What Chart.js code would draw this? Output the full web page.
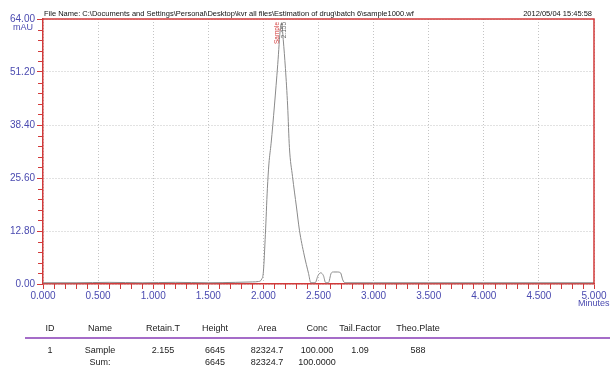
<!DOCTYPE html>
<html>
<head>
<meta charset="utf-8">
<script src="https://cdn.jsdelivr.net/npm/chart.js@4/dist/chart.umd.min.js"></script>
<style>
  html, body { margin: 0; padding: 0; background: #fff; }
  canvas { display: block; }
</style>
</head>
<body>
<canvas id="chart" width="610" height="373"></canvas>
<script>
// chromatogram trace (minutes, mAU)
const times = [0, 0.3, 0.6, 0.9, 1.2, 1.5, 1.75, 1.9, 1.955, 1.985, 2.0, 2.018, 2.036, 2.05, 2.07, 2.1, 2.13, 2.155, 2.165, 2.18, 2.2, 2.22, 2.236, 2.264, 2.3, 2.327, 2.37, 2.41, 2.43, 2.47, 2.495, 2.52, 2.545, 2.565, 2.59, 2.615, 2.635, 2.67, 2.70, 2.72, 2.74, 3.0, 3.5, 4.0, 4.5, 5.0];
const signal = [0.3, 0.3, 0.4, 0.3, 0.4, 0.3, 0.4, 0.5, 0.6, 1.2, 3, 12, 23, 29, 34, 43, 53, 62, 63, 59, 52, 43, 33, 26, 18.6, 13, 7, 2.5, 0.3, 0.3, 2, 2.7, 2, 0.3, 0.3, 2.6, 2.9, 2.9, 2.7, 1, 0.3, 0.3, 0.3, 0.3, 0.3, 0.3];

const xTicks = [0, 0.5, 1, 1.5, 2, 2.5, 3, 3.5, 4, 4.5, 5];
const yTicks = [0, 12.8, 25.6, 38.4, 51.2, 64];

const fileName = 'File Name: C:\\Documents and Settings\\Personal\\Desktop\\kvr all files\\Estimation of drug\\batch 6\\sample1000.wf';
const stamp = '2012/05/04 15:45:58';
const peakName = 'Sample';
const peakTime = '2.155';

// peak table
const tableHeader = ['ID', 'Name', 'Retain.T', 'Height', 'Area', 'Conc', 'Tail.Factor', 'Theo.Plate'];
const tableRow = ['1', 'Sample', '2.155', '6645', '82324.7', '100.000', '1.09', '588'];
const sumRow = ['', 'Sum:', '', '6645', '82324.7', '100.0000', '', ''];
const colX = [50, 100, 163, 215, 267, 317, 360, 418];

const RED = '#d23a3a';
const BLUE = '#4a4ab0';
const FONT = '"Liberation Sans", Arial, sans-serif';

const decor = {
  id: 'decor',
  afterDraw(chart) {
    const ctx = chart.ctx;
    const a = chart.chartArea;
    const xs = chart.scales.x, ys = chart.scales.y;
    ctx.save();
    // frame top and right
    ctx.strokeStyle = RED;
    ctx.lineWidth = 1.5;
    ctx.beginPath();
    ctx.moveTo(a.left, a.top); ctx.lineTo(a.right, a.top); ctx.lineTo(a.right, a.bottom);
    ctx.stroke();
    // minor ticks
    ctx.lineWidth = 1;
    ctx.beginPath();
    for (let i = 1; i < 50; i++) {
      if (i % 5 === 0) continue;
      const px = Math.round(xs.getPixelForValue(i / 10)) + 0.5;
      ctx.moveTo(px, a.bottom); ctx.lineTo(px, a.bottom + 5);
    }
    for (let i = 1; i < 25; i++) {
      if (i % 5 === 0) continue;
      const py = Math.round(ys.getPixelForValue(i * 2.56)) + 0.5;
      ctx.moveTo(a.left - 5, py); ctx.lineTo(a.left, py);
    }
    ctx.stroke();

    // header texts
    ctx.fillStyle = '#111';
    ctx.font = '7.5px ' + FONT;
    ctx.textBaseline = 'middle';
    ctx.textAlign = 'left';
    ctx.fillText(fileName, 44, 14);
    ctx.textAlign = 'right';
    ctx.fillText(stamp, 592, 14);

    // axis units
    ctx.fillStyle = BLUE;
    ctx.font = '9px ' + FONT;
    ctx.textAlign = 'center';
    ctx.fillText('mAU', 23, 28);
    ctx.textAlign = 'left';
    ctx.fillText('Minutes', 578, 304);

    // peak annotation
    const pk = xs.getPixelForValue(2.155);
    ctx.font = '6.5px ' + FONT;
    ctx.save();
    ctx.translate(pk - 3, a.top + 3);
    ctx.rotate(-Math.PI / 2);
    ctx.textAlign = 'right';
    ctx.fillStyle = RED;
    ctx.fillText(peakName, 0, 0);
    ctx.fillStyle = '#666';
    ctx.fillText(peakTime, 0, 6.5);
    ctx.restore();

    // table
    ctx.font = '9px ' + FONT;
    ctx.fillStyle = '#222';
    ctx.textAlign = 'center';
    tableHeader.forEach((t, i) => ctx.fillText(t, colX[i], 329));
    tableRow.forEach((t, i) => ctx.fillText(t, colX[i], 351));
    sumRow.forEach((t, i) => ctx.fillText(t, colX[i], 363));
    ctx.strokeStyle = '#a56cc8';
    ctx.lineWidth = 2;
    ctx.beginPath();
    ctx.moveTo(25, 338); ctx.lineTo(610, 338);
    ctx.stroke();
    ctx.restore();
  }
};

new Chart(document.getElementById('chart'), {
  type: 'line',
  data: {
    datasets: [{
      data: times.map((t, i) => ({ x: t, y: signal[i] })),
      borderColor: '#8a8a8a',
      borderWidth: 1,
      pointRadius: 0,
      cubicInterpolationMode: 'monotone',
      clip: false
    }]
  },
  plugins: [decor],
  options: {
    responsive: false,
    animation: false,
    events: [],
    layout: { padding: { top: 19, right: 16, bottom: 69, left: 0 } },
    plugins: { legend: { display: false }, tooltip: { enabled: false } },
    scales: {
      x: {
        type: 'linear',
        min: 0, max: 5,
        afterFit(s) { s.height = 20; },
        afterBuildTicks(s) { s.ticks = xTicks.map(v => ({ value: v })); },
        grid: {
          color: '#c4c4c4',
          tickColor: RED,
          tickLength: 5,
          lineWidth: 1
        },
        border: { color: RED, width: 1.5, dash: [1, 2] },
        ticks: {
          color: BLUE,
          padding: 1,
          maxRotation: 0,
          font: { family: FONT, size: 10 },
          callback: v => Number(v).toFixed(3)
        }
      },
      y: {
        min: 0, max: 64,
        afterFit(s) { s.width = 43; },
        afterBuildTicks(s) { s.ticks = yTicks.map(v => ({ value: v })); },
        grid: {
          color: '#c4c4c4',
          tickColor: RED,
          tickLength: 6,
          lineWidth: 1
        },
        border: { color: RED, width: 1.5, dash: [1, 2] },
        ticks: {
          color: BLUE,
          padding: 2,
          font: { family: FONT, size: 10 },
          callback: v => Number(v).toFixed(2)
        }
      }
    }
  }
});
</script>
</body>
</html>
